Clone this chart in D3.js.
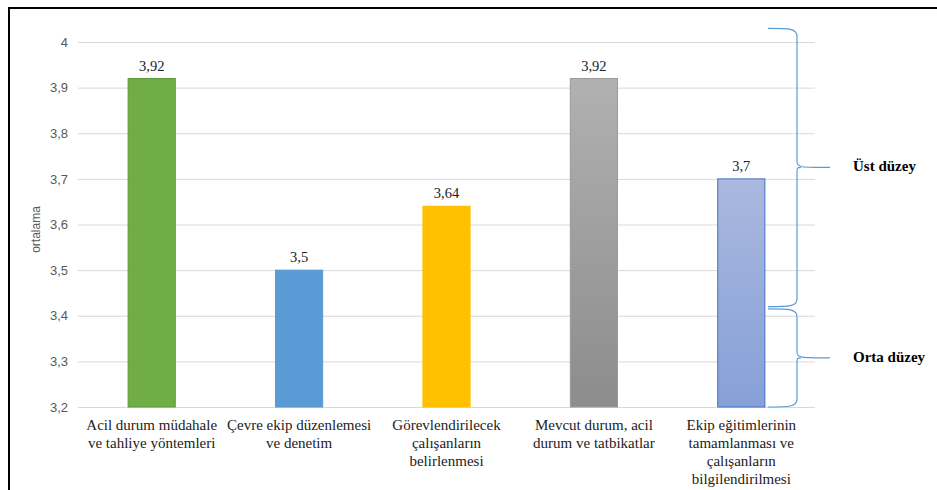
<!DOCTYPE html>
<html>
<head>
<meta charset="utf-8">
<script src="https://cdn.jsdelivr.net/npm/d3@7"></script>
<style>
  body { margin: 0; background: #fff; }
  svg { display: block; }
</style>
</head>
<body>
<div id="chart"></div>
<script>
const categories = [
  ["Acil durum müdahale", "ve tahliye yöntemleri"],
  ["Çevre ekip düzenlemesi", "ve denetim"],
  ["Görevlendirilecek", "çalışanların", "belirlenmesi"],
  ["Mevcut durum, acil", "durum ve tatbikatlar"],
  ["Ekip eğitimlerinin", "tamamlanması ve", "çalışanların", "bilgilendirilmesi"]
]
const values = [3.92, 3.5, 3.64, 3.92, 3.7]
const yTicks = [3.2, 3.3, 3.4, 3.5, 3.6, 3.7, 3.8, 3.9, 4]
const levels = [
  { name: "Üst düzey", from: 3.42, to: 4.03 },
  { name: "Orta düzey", from: 3.2, to: 3.415 }
]

const SERIF = "Liberation Serif"
const SANS = "Liberation Sans"

const W = 937, H = 490
const margin = { top: 42, right: 122, bottom: 83, left: 78 }
const width = W - margin.left - margin.right
const height = H - margin.top - margin.bottom

const svg = d3.select("#chart").append("svg")
  .attr("width", W).attr("height", H)

const defs = svg.append("defs")
const grayGrad = defs.append("linearGradient").attr("id", "gGray")
  .attr("x1", 0).attr("y1", 0).attr("x2", 0).attr("y2", 1)
grayGrad.append("stop").attr("offset", "0%").attr("stop-color", "#b1b1b1")
grayGrad.append("stop").attr("offset", "100%").attr("stop-color", "#8c8c8c")
const blueGrad = defs.append("linearGradient").attr("id", "gBlue")
  .attr("x1", 0).attr("y1", 0).attr("x2", 0).attr("y2", 1)
blueGrad.append("stop").attr("offset", "0%").attr("stop-color", "#aab8de")
blueGrad.append("stop").attr("offset", "100%").attr("stop-color", "#86a0d8")

const fills = ["#70ad47", "#5b9bd5", "#ffc000", "url(#gGray)", "url(#gBlue)"]
const strokes = ["#5f9a3a", "#5b9bd5", "#ffc000", "#9a9a9a", "#4472c4"]

// frame
svg.append("path")
  .attr("d", `M9,${H} L9,8 L${W},8`)
  .attr("fill", "none").attr("stroke", "#000").attr("stroke-width", 2)

const g = svg.append("g").attr("transform", `translate(${margin.left},${margin.top})`)

const x = d3.scaleBand().domain(d3.range(categories.length)).range([0, width]).paddingInner(0.68).paddingOuter(0.34)
const y = d3.scaleLinear().domain([3.2, 4]).range([height, 0])

// grid
g.append("g")
  .call(d3.axisLeft(y).tickValues(yTicks).tickSize(-width).tickFormat(d => d3.format(".1f")(d).replace(".", ",").replace(",0", "")))
  .attr("font-family", SANS)
  .attr("font-size", 13)
  .call(a => a.select(".domain").remove())
  .call(a => a.selectAll(".tick line").attr("stroke", "#d9d9d9"))
  .call(a => a.selectAll(".tick text").attr("x", -10).attr("fill", "#595959"))

g.append("text")
  .attr("transform", `translate(-38,${y(3.6) + 5}) rotate(-90)`)
  .attr("text-anchor", "middle")
  .attr("fill", "#595959")
  .attr("font-family", SANS)
  .attr("font-size", 12)
  .text("ortalama")

// bars
g.selectAll("rect.bar").data(values).join("rect")
  .attr("class", "bar")
  .attr("x", (d, i) => x(i))
  .attr("y", d => y(d))
  .attr("width", x.bandwidth())
  .attr("height", d => height - y(d))
  .attr("fill", (d, i) => fills[i])
  .attr("stroke", (d, i) => strokes[i])
  .attr("stroke-width", 1)

g.selectAll("text.val").data(values).join("text")
  .attr("class", "val")
  .attr("x", (d, i) => x(i) + x.bandwidth() / 2)
  .attr("y", d => y(d) - 8)
  .attr("text-anchor", "middle")
  .attr("fill", "#222")
  .attr("font-family", SERIF)
  .attr("font-size", 14.5)
  .text(d => String(d).replace(".", ","))

// category labels
const cat = g.selectAll("text.cat").data(categories).join("text")
  .attr("class", "cat")
  .attr("x", (d, i) => x(i) + x.bandwidth() / 2)
  .attr("y", height + 23)
  .attr("text-anchor", "middle")
  .attr("fill", "#222")
  .attr("font-family", SERIF)
  .attr("font-size", 15)
cat.selectAll("tspan").data(d => d).join("tspan")
  .attr("x", function () { return this.parentNode.getAttribute("x") })
  .attr("dy", (d, i) => i === 0 ? 0 : 18)
  .text(d => d)

// level braces
const bx0 = width - 47, bx1 = width - 18, btip = width + 15
const brace = (top, bottom) => {
  const t = y(top), b = y(bottom), m = (t + b) / 2
  return `M${bx0},${t} C${bx1 - 8},${t} ${bx1},${t} ${bx1},${t + 8}
    L${bx1},${m - 6} C${bx1},${m} ${bx1 + 4},${m} ${btip},${m}
    M${bx1 + 4},${m} C${bx1},${m} ${bx1},${m} ${bx1},${m + 6}
    L${bx1},${b - 8} C${bx1},${b} ${bx1 - 8},${b} ${bx0},${b}`
}
g.selectAll("path.brace").data(levels).join("path")
  .attr("class", "brace")
  .attr("d", d => brace(d.to, d.from))
  .attr("fill", "none")
  .attr("stroke", "#5b9bd5")
  .attr("stroke-width", 1.2)

g.selectAll("text.lvl").data(levels).join("text")
  .attr("class", "lvl")
  .attr("x", width + 38)
  .attr("y", d => (y(d.to) + y(d.from)) / 2 + 4)
  .attr("fill", "#000")
  .attr("font-family", SERIF)
  .attr("font-size", 15)
  .attr("font-weight", "bold")
  .text(d => d.name)
</script>
</body>
</html>
